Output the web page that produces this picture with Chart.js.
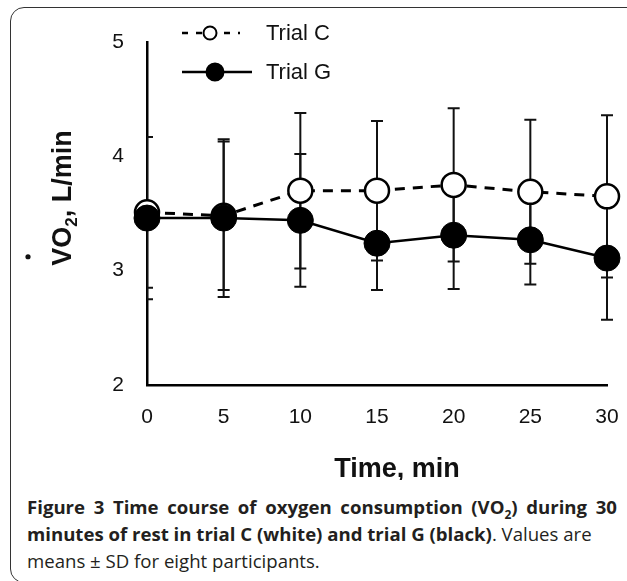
<!DOCTYPE html>
<html>
<head>
<meta charset="utf-8">
<script src="https://cdn.jsdelivr.net/npm/chart.js@4/dist/chart.umd.min.js"></script>
<style>
  html, body { margin: 0; padding: 0; background: #fff; overflow: hidden; }
  #page { width: 627px; height: 581px; position: relative; overflow: hidden; }
  .frame {
    position: absolute; left: 10px; top: 7px; width: 650px; height: 574px;
    border: 1.5px solid #333; border-radius: 14px;
  }
  #chart { position: absolute; left: 0; top: 0; }
  .caption {
    position: absolute; left: 27px; top: 493px; width: 600px;
    font-family: "Open Sans", sans-serif; font-size: 18.6px; line-height: 27px;
    color: #231f20; white-space: nowrap; overflow: hidden;
  }
  .caption b { font-weight: 700; }
  .caption .l1 { word-spacing: 3.8px; }
  .caption sub { font-size: 12px; line-height: 0; }
  .preload { position: absolute; left: -999px; font-family: Arial, "Liberation Sans"; }
</style>
</head>
<body>
<div id="page">
<div class="frame"></div>
<canvas id="chart" width="627" height="480"></canvas>
<div class="caption">
  <b class="l1">Figure 3 Time course of oxygen consumption (VO<sub>2</sub>) during 30</b><br>
  <b>minutes of rest in trial C (white) and trial G (black)</b>. Values are<br>
  means ± SD for eight participants.
</div>
<span class="preload">0123 <b>Time</b></span>
</div>
<script>
const times = [0, 5, 10, 15, 20, 25, 30];
const trialC = [3.51, 3.48, 3.70, 3.70, 3.75, 3.69, 3.65];
const trialCsd = [0.66, 0.65, 0.68, 0.61, 0.67, 0.63, 0.71];
const trialG = [3.46, 3.46, 3.44, 3.24, 3.31, 3.27, 3.11];
const trialGsd = [0.71, 0.69, 0.58, 0.41, 0.47, 0.39, 0.54];
const seriesNames = ['Trial C', 'Trial G'];
const xTitle = 'Time, min';
const yTitle = ['VO', '2', ', L/min'];

const chartEl = document.getElementById('chart');
const ctx = chartEl.getContext('2d');

const FAMILY = 'Arial, "Liberation Sans", sans-serif';
const tickFont = { family: FAMILY, size: 21 };

function toPoints(values) {
    return values.map((v, i) => ({ x: times[i], y: v }));
}

// error bars under the markers
const errorBars = {
    id: 'errorBars',
    beforeDatasetsDraw(chart) {
        const c = chart.ctx;
        const xs = chart.scales.x, ys = chart.scales.y;
        const area = chart.chartArea;
        c.save();
        c.beginPath();
        c.rect(area.left, 0, chart.width - area.left, chart.height);
        c.clip();
        c.strokeStyle = '#111';
        c.lineWidth = 2;
        chart.data.datasets.forEach(ds => {
            ds.data.forEach((p, i) => {
                const px = xs.getPixelForValue(p.x);
                const top = ys.getPixelForValue(p.y + ds.sd[i]);
                const bot = ys.getPixelForValue(p.y - ds.sd[i]);
                c.beginPath();
                c.moveTo(px, top); c.lineTo(px, bot);
                c.moveTo(px - 6, top); c.lineTo(px + 6, top);
                c.moveTo(px - 6, bot); c.lineTo(px + 6, bot);
                c.stroke();
            });
        });
        c.restore();
    }
};

// axis titles + legend
const decorations = {
    id: 'decorations',
    afterDraw(chart) {
        const c = chart.ctx;
        c.save();
        c.fillStyle = '#111';

        // x title
        c.font = 'bold 27px ' + FAMILY;
        c.textAlign = 'center';
        c.textBaseline = 'alphabetic';
        c.fillText(xTitle, 397, 477);

        // y title, rotated, with subscript 2
        const big = 'bold 27px ' + FAMILY;
        const small = 'bold 17px ' + FAMILY;
        c.font = big; const w1 = c.measureText(yTitle[0]).width;
        const w3 = c.measureText(yTitle[2]).width;
        c.font = small; const w2 = c.measureText(yTitle[1]).width;
        const total = w1 + w2 + w3;
        c.save();
        c.translate(71, 198);
        c.rotate(-Math.PI / 2);
        c.textAlign = 'left';
        let x = -total / 2;
        c.font = big; c.fillText(yTitle[0], x, 0); x += w1;
        c.font = small; c.fillText(yTitle[1], x, 6); x += w2;
        c.font = big; c.fillText(yTitle[2], x, 0);
        // dot over V
        c.beginPath();
        c.arc(-total / 2 + 9, -43, 2.6, 0, Math.PI * 2);
        c.fill();
        c.restore();

        // legend
        const rows = [
            { y: 33, x1: 182, x2: 240, cx: 210, r: 6.5, dash: [6, 8], fill: '#fff' },
            { y: 72, x1: 182, x2: 252, cx: 215, r: 8.5, dash: [], fill: '#000' }
        ];
        rows.forEach((row, i) => {
            c.strokeStyle = '#000';
            c.lineWidth = 2.5;
            c.setLineDash(row.dash);
            c.beginPath();
            c.moveTo(row.x1, row.y); c.lineTo(row.x2, row.y);
            c.stroke();
            c.setLineDash([]);
            c.beginPath();
            c.arc(row.cx, row.y, row.r, 0, Math.PI * 2);
            c.fillStyle = row.fill;
            c.fill();
            c.lineWidth = 2;
            c.stroke();
            c.fillStyle = '#111';
            c.font = '22px ' + FAMILY;
            c.textAlign = 'left';
            c.textBaseline = 'middle';
            c.fillText(seriesNames[i], 266, row.y + 1);
        });
        c.restore();
    }
};

const chart = new Chart(ctx, {
    type: 'line',
    data: {
        datasets: [
            {
                label: seriesNames[1],
                data: toPoints(trialG),
                sd: trialGsd,
                order: 0,
                borderColor: '#000',
                backgroundColor: '#000',
                borderWidth: 2.5,
                pointRadius: 13,
                pointBorderWidth: 1,
                pointBackgroundColor: '#000',
                pointBorderColor: '#000',
                tension: 0
            },
            {
                label: seriesNames[0],
                data: toPoints(trialC),
                sd: trialCsd,
                order: 1,
                borderColor: '#000',
                backgroundColor: '#fff',
                borderWidth: 3,
                borderDash: [10, 8],
                pointRadius: 12,
                pointBorderWidth: 2.5,
                pointBackgroundColor: '#fff',
                pointBorderColor: '#000',
                tension: 0
            }
        ]
    },
    options: {
        responsive: false,
        animation: false,
        devicePixelRatio: 1,
        clip: false,
        layout: { autoPadding: false, padding: { left: 0, top: 42, right: 20, bottom: 0 } },
        plugins: { legend: { display: false }, tooltip: { enabled: false } },
        scales: {
            x: {
                type: 'linear',
                min: 0, max: 30,
                ticks: { stepSize: 5, color: '#111', font: tickFont, padding: 13 },
                grid: { display: false, drawTicks: true, tickLength: 7, tickColor: '#000', tickWidth: 2.5 },
                border: { display: true, color: '#000', width: 2.5 },
                afterFit(scale) {
                    scale.height = 480 - 385;
                    scale.paddingLeft = 0;
                    scale.paddingRight = 0;
                }
            },
            y: {
                min: 2, max: 5,
                ticks: { stepSize: 1, color: '#111', font: tickFont, padding: 16 },
                grid: { display: false, drawTicks: true, tickLength: 7, tickColor: '#000', tickWidth: 2.5 },
                border: { display: true, color: '#000', width: 2.5 },
                afterFit(scale) { scale.width = 147; }
            }
        }
    },
    plugins: [errorBars, decorations]
});
</script>
</body>
</html>
